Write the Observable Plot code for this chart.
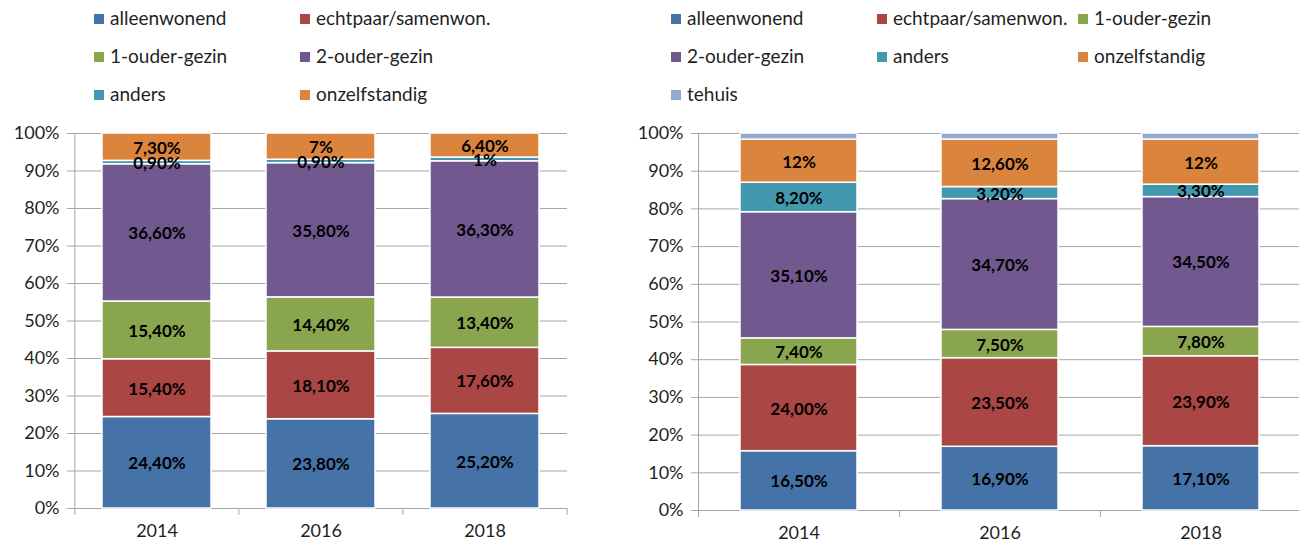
<!DOCTYPE html>
<html><head><meta charset="utf-8">
<script src="https://cdn.jsdelivr.net/npm/d3@7"></script>
<script src="https://cdn.jsdelivr.net/npm/@observablehq/plot@0.6"></script>
<style>
body{margin:0;background:#fff;font-family:Lato, "Liberation Sans", sans-serif;}
#wrap{position:relative;width:1299px;height:549px;overflow:hidden;background:#fff;}
.leg{position:absolute;font-size:19px;color:#1f1f1f;white-space:nowrap;line-height:20px;height:20px;}
.sw{display:inline-block;width:10px;height:10px;margin-right:6px;vertical-align:1px;}
.plot{position:absolute;top:100px;}
</style></head><body><div id="wrap"></div>
<script>
const years = ["2014", "2016", "2018"];
const categoriesLeft = ["alleenwonend", "echtpaar/samenwon.", "1-ouder-gezin", "2-ouder-gezin", "anders", "onzelfstandig"];
const categoriesRight = ["alleenwonend", "echtpaar/samenwon.", "1-ouder-gezin", "2-ouder-gezin", "anders", "onzelfstandig", "tehuis"];
const colorsLeft = ["#4572A7", "#AA4643", "#89A54E", "#71588F", "#4198AF", "#DB843D"];
const colorsRight = ["#4572A7", "#AA4643", "#89A54E", "#71588F", "#4198AF", "#DB843D", "#93A9CF"];

// Left panel values (%)
const leftAlleenwonend = [24.4, 23.8, 25.2];
const leftEchtpaar = [15.4, 18.1, 17.6];
const leftEenouder = [15.4, 14.4, 13.4];
const leftTweeouder = [36.6, 35.8, 36.3];
const leftAnders = [0.9, 0.9, 1.0];
const leftOnzelfstandig = [7.3, 7.0, 6.4];
// Left panel labels
const leftLabels = [
  ["24,40%", "23,80%", "25,20%"],
  ["15,40%", "18,10%", "17,60%"],
  ["15,40%", "14,40%", "13,40%"],
  ["36,60%", "35,80%", "36,30%"],
  ["0,90%", "0,90%", "1%"],
  ["7,30%", "7%", "6,40%"]
];

// Right panel values (%)
const rightAlleenwonend = [16.5, 16.9, 17.1];
const rightEchtpaar = [24.0, 23.5, 23.9];
const rightEenouder = [7.4, 7.5, 7.8];
const rightTweeouder = [35.1, 34.7, 34.5];
const rightAnders = [8.2, 3.2, 3.3];
const rightOnzelfstandig = [12.0, 12.6, 12.0];
const rightTehuis = [1.7, 1.6, 1.6];
const rightLabels = [
  ["16,50%", "16,90%", "17,10%"],
  ["24,00%", "23,50%", "23,90%"],
  ["7,40%", "7,50%", "7,80%"],
  ["35,10%", "34,70%", "34,50%"],
  ["8,20%", "3,20%", "3,30%"],
  ["12%", "12,60%", "12%"],
  ["", "", ""]
];

const yTicks = [0, 0.1, 0.2, 0.3, 0.4, 0.5, 0.6, 0.7, 0.8, 0.9, 1];

function buildRows(cats, series, labels) {
  const rows = [];
  cats.forEach((c, ci) => years.forEach((y, yi) => rows.push({year: y, cat: c, value: series[ci][yi], label: labels[ci][yi]})));
  return rows;
}

const gray = "#a6a6a6";
function panel(rows, cats, colors, o) {
  const height = 449;
  const step = (o.width - o.marginLeft - o.marginRight) / years.length;
  const stackOpts = {offset: "normalize", order: cats};
  return Plot.plot({
    width: o.width, height, marginTop: 33, marginBottom: o.marginBottom,
    marginLeft: o.marginLeft, marginRight: o.marginRight,
    style: {fontFamily: "Lato, 'Liberation Sans', sans-serif", fontSize: "18px", color: "#1f1f1f", background: "white", overflow: "visible"},
    x: {domain: years, paddingInner: o.padding, paddingOuter: o.padding / 2, label: null, axis: null},
    y: {domain: [0, 1], label: null, axis: null},
    color: {domain: cats, range: colors},
    marks: [
      Plot.ruleY(yTicks, {stroke: gray, strokeWidth: 1}),
      Plot.ruleX([years[0]], {x: d => d, dx: -step / 2, stroke: gray}),
      Plot.ruleX(years, {x: d => d, dx: -step / 2, y1: 0, y2: 0, insetBottom: -7, stroke: gray}),
      Plot.ruleX([years[years.length - 1]], {x: d => d, dx: step / 2, y1: 0, y2: 0, insetBottom: -7, stroke: gray}),
      Plot.barY(rows, Plot.stackY(stackOpts, {x: "year", y: "value", z: "cat", fill: "cat", stroke: "white", strokeWidth: 1.5})),
      Plot.text(rows, Plot.stackY(stackOpts, {x: "year", y: "value", z: "cat", text: "label", fontWeight: "bold", fontSize: 17, fill: "black", dy: 1})),
      Plot.axisY(yTicks, {tickFormat: d => Math.round(d * 100) + "%", tickSize: 7, tickPadding: 8, stroke: gray, fill: "#1f1f1f", fontSize: 18}),
      Plot.axisX({tickSize: 0, tickPadding: 16, fill: "#1f1f1f", fontSize: 18})
    ]
  });
}

const wrap = document.getElementById("wrap");

const leftRows = buildRows(categoriesLeft, [leftAlleenwonend, leftEchtpaar, leftEenouder, leftTweeouder, leftAnders, leftOnzelfstandig], leftLabels);
const rightRows = buildRows(categoriesRight, [rightAlleenwonend, rightEchtpaar, rightEenouder, rightTweeouder, rightAnders, rightOnzelfstandig, rightTehuis], rightLabels);

const left = panel(leftRows, categoriesLeft, colorsLeft, {width: 600, marginLeft: 74, marginRight: 33, marginBottom: 41, padding: 0.335});
left.classList.add("plot"); left.style.left = "0px";
wrap.appendChild(left);

const right = panel(rightRows, categoriesRight, colorsRight, {width: 681, marginLeft: 78, marginRight: 0, marginBottom: 39, padding: 0.42});
right.classList.add("plot"); right.style.left = "620px";
wrap.appendChild(right);

// Legends
function legend(cats, colors, positions) {
  cats.forEach((c, i) => {
    const d = document.createElement("div");
    d.className = "leg";
    d.style.left = positions[i][0] + "px";
    d.style.top = (positions[i][1] - 10) + "px";
    const s = document.createElement("span");
    s.className = "sw"; s.style.background = colors[i];
    d.appendChild(s);
    d.appendChild(document.createTextNode(c));
    wrap.appendChild(d);
  });
}
legend(categoriesLeft, colorsLeft, [[94, 18], [300, 18], [94, 56], [300, 56], [94, 94], [300, 94]]);
legend(categoriesRight, colorsRight, [[671, 18], [877, 18], [1078, 18], [671, 56], [877, 56], [1078, 56], [671, 94]]);
</script></body></html>
